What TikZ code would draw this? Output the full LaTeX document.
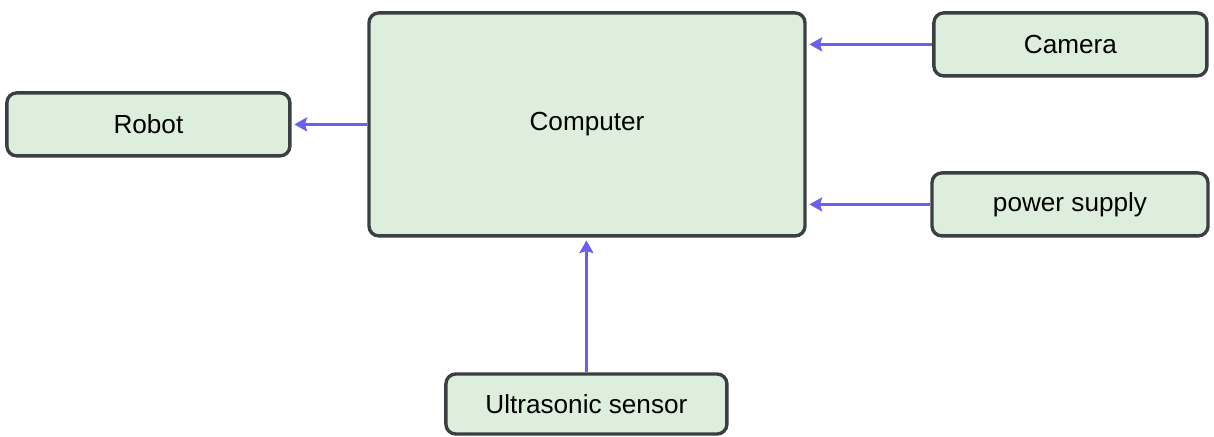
\documentclass[tikz,border=0pt]{standalone}
\usepackage{fontspec}
\setmainfont{Liberation Sans}
\usetikzlibrary{arrows.meta}
\definecolor{boxfill}{HTML}{DDEFDC}
\definecolor{boxline}{HTML}{3A3F44}
\definecolor{arrowblue}{HTML}{6A5FF0}
\tikzset{
    block/.style={draw=boxline, fill=boxfill, line width=2.4pt, rounded corners=7pt,
        font=\fontsize{18.6}{22}\selectfont, inner sep=0pt},
    link/.style={draw=arrowblue, line width=2.5pt, -{Stealth[length=9pt,width=10pt,inset=1.5pt]}, shorten >=2pt}
}
\begin{document}
\begin{tikzpicture}
        \useasboundingbox (0,0) rectangle (30.35,-10.9);
        % the computer in the middle
        \node[block, minimum width=10.9cm, minimum height=5.575cm] (computer) at (14.675,-3.11) {Computer};
        % boxes round the computer
        \node[block, minimum width=6.825cm, minimum height=1.575cm] (camera) at (26.76,-1.11) {Camera};
        \node[block, minimum width=7.075cm, minimum height=1.575cm] (robot) at (3.71,-3.11) {Robot};
        \node[block, minimum width=6.9cm, minimum height=1.575cm] (power) at (26.75,-5.11) {power supply};
        \node[block, minimum width=7.025cm, minimum height=1.5cm] (sensor) at (14.66,-10.1) {Ultrasonic sensor};
        % inputs to the computer
        \draw[link] (camera.west) -- (camera.west -| computer.east);
        \draw[link] (power.west) -- (power.west -| computer.east);
        \draw[link] (sensor.north) -- (sensor.north |- computer.south);
        % output to the robot
        \draw[link] (computer.west |- robot.east) -- (robot.east);
        \end{tikzpicture}
\end{document}
